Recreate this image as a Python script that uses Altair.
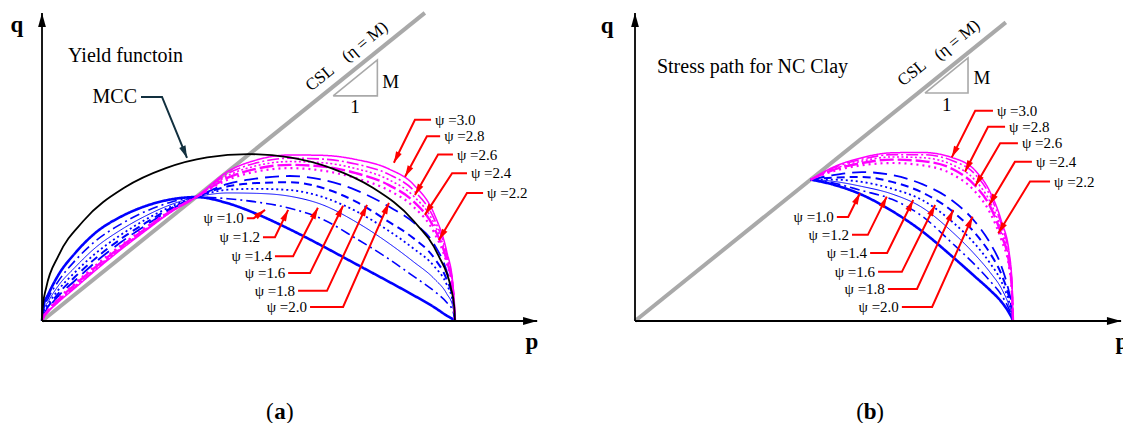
import math
import altair as alt
import pandas as pd

FONT = "Liberation Serif"
BLUE = "#0000ff"
MAGENTA = "#ff00ff"
RED = "#ff0000"
GREY = "#a9a9a9"
NAVY = "#12303f"

# p and q are both normalised by the preconsolidation pressure p0
psi_labels = ["1.0", "1.2", "1.4", "1.6", "1.8", "2.0", "2.2", "2.4", "2.6", "2.8", "3.0"]

# ---------- (a) yield functions ----------
a_p = [0, 0.004, 0.015, 0.04, 0.08, 0.13, 0.19, 0.25, 0.31, 0.373,
       0.45, 0.52, 0.6, 0.68, 0.76, 0.84, 0.9, 0.95, 0.98, 0.995, 1.0]
a_q = {
    "1.0": [0, 0.038, 0.064, 0.112, 0.164, 0.214, 0.252, 0.278, 0.294, 0.300,
            0.285, 0.259, 0.222, 0.181, 0.138, 0.095, 0.062, 0.033, 0.013, 0.004, 0],
    "1.2": [0, 0.031, 0.055, 0.097, 0.146, 0.194, 0.234, 0.265, 0.287, 0.300,
            0.296, 0.288, 0.273, 0.246, 0.200, 0.150, 0.108, 0.072, 0.045, 0.024, 0],
    "1.4": [0, 0.026, 0.047, 0.086, 0.130, 0.178, 0.220, 0.254, 0.281, 0.300,
            0.310, 0.309, 0.302, 0.281, 0.240, 0.188, 0.143, 0.102, 0.066, 0.034, 0],
    "1.6": [0, 0.022, 0.041, 0.076, 0.118, 0.164, 0.208, 0.245, 0.276, 0.300,
            0.318, 0.320, 0.317, 0.300, 0.266, 0.218, 0.175, 0.132, 0.088, 0.045, 0],
    "1.8": [0, 0.018, 0.035, 0.067, 0.107, 0.152, 0.198, 0.237, 0.272, 0.300,
            0.326, 0.334, 0.336, 0.322, 0.289, 0.240, 0.200, 0.152, 0.100, 0.052, 0],
    "2.0": [0, 0.015, 0.031, 0.061, 0.098, 0.143, 0.190, 0.231, 0.269, 0.300,
            0.332, 0.345, 0.351, 0.342, 0.317, 0.277, 0.238, 0.185, 0.120, 0.062, 0],
    "2.2": [0, 0.012, 0.027, 0.055, 0.091, 0.135, 0.182, 0.226, 0.266, 0.300,
            0.342, 0.362, 0.370, 0.364, 0.346, 0.316, 0.276, 0.213, 0.139, 0.072, 0],
    "2.4": [0, 0.011, 0.026, 0.052, 0.088, 0.131, 0.179, 0.223, 0.265, 0.300,
            0.347, 0.369, 0.378, 0.374, 0.358, 0.329, 0.289, 0.224, 0.146, 0.076, 0],
    "2.6": [0, 0.010, 0.024, 0.050, 0.085, 0.128, 0.176, 0.221, 0.264, 0.300,
            0.352, 0.376, 0.386, 0.383, 0.369, 0.342, 0.302, 0.235, 0.153, 0.080, 0],
    "2.8": [0, 0.009, 0.023, 0.048, 0.082, 0.125, 0.174, 0.220, 0.263, 0.300,
            0.357, 0.383, 0.394, 0.392, 0.380, 0.355, 0.316, 0.246, 0.160, 0.084, 0],
    "3.0": [0, 0.008, 0.022, 0.046, 0.080, 0.123, 0.172, 0.218, 0.262, 0.300,
            0.362, 0.390, 0.402, 0.401, 0.391, 0.368, 0.330, 0.258, 0.168, 0.088, 0],
}

# Modified Cam-Clay ellipse
mcc_p = [0, 0.002, 0.01, 0.04, 0.1, 0.2, 0.3, 0.4, 0.5, 0.6, 0.7, 0.8, 0.9, 0.96, 0.99, 0.998, 1.0]
mcc_q = [0, 0.036, 0.080, 0.158, 0.242, 0.323, 0.370, 0.396, 0.404, 0.396, 0.370, 0.323,
         0.242, 0.158, 0.080, 0.036, 0]

# ---------- (b) undrained stress paths of NC clay ----------
b_p = [0.465, 0.52, 0.6, 0.68, 0.76, 0.84, 0.9, 0.94, 0.97, 0.99, 0.997, 1.0]
b_q = {
    "1.0": [0.374, 0.362, 0.334, 0.291, 0.237, 0.170, 0.117, 0.081, 0.050, 0.021, 0.008, 0],
    "1.2": [0.374, 0.366, 0.345, 0.322, 0.277, 0.205, 0.148, 0.105, 0.068, 0.030, 0.012, 0],
    "1.4": [0.374, 0.370, 0.356, 0.336, 0.300, 0.235, 0.175, 0.128, 0.085, 0.040, 0.018, 0],
    "1.6": [0.374, 0.374, 0.368, 0.350, 0.320, 0.262, 0.203, 0.152, 0.103, 0.050, 0.024, 0],
    "1.8": [0.374, 0.379, 0.381, 0.368, 0.340, 0.290, 0.232, 0.178, 0.122, 0.062, 0.030, 0],
    "2.0": [0.374, 0.385, 0.394, 0.386, 0.362, 0.318, 0.262, 0.205, 0.143, 0.074, 0.038, 0],
    "2.2": [0.374, 0.395, 0.412, 0.418, 0.412, 0.388, 0.342, 0.285, 0.212, 0.140, 0.078, 0],
    "2.4": [0.374, 0.398, 0.418, 0.427, 0.423, 0.402, 0.358, 0.302, 0.226, 0.150, 0.084, 0],
    "2.6": [0.374, 0.400, 0.423, 0.434, 0.432, 0.413, 0.372, 0.314, 0.238, 0.160, 0.090, 0],
    "2.8": [0.374, 0.403, 0.428, 0.440, 0.440, 0.424, 0.388, 0.330, 0.252, 0.170, 0.097, 0],
    "3.0": [0.374, 0.405, 0.432, 0.445, 0.446, 0.432, 0.398, 0.340, 0.262, 0.180, 0.105, 0],
}

# critical state line and slope triangle
a_csl = [(0, 0), (0.927, 0.746)]
b_csl = [(0, 0), (0.981, 0.790)]
a_tri = [(0.705, 0.545), (0.812, 0.632), (0.812, 0.545), (0.705, 0.545)]
b_tri = [(0.767, 0.603), (0.881, 0.696), (0.881, 0.603), (0.767, 0.603)]

# label leaders: start (next to the label), elbow, arrow tip
a_lead = {
    "start": [(0.496, 0.249), (0.535, 0.203), (0.564, 0.157), (0.596, 0.116), (0.620, 0.073),
              (0.649, 0.034), (1.068, 0.310), (1.029, 0.358), (0.995, 0.403), (0.964, 0.447),
              (0.942, 0.487)],
    "elbow": [(0.513, 0.249), (0.564, 0.203), (0.608, 0.157), (0.649, 0.116), (0.690, 0.073),
              (0.729, 0.034), (1.029, 0.310), (0.993, 0.358), (0.959, 0.403), (0.932, 0.447),
              (0.903, 0.487)],
    "tip": [(0.540, 0.269), (0.596, 0.269), (0.668, 0.274), (0.729, 0.279), (0.787, 0.281),
            (0.840, 0.286), (0.961, 0.196), (0.927, 0.257), (0.903, 0.305), (0.879, 0.349),
            (0.852, 0.383)],
}
b_lead = {
    "start": [(0.534, 0.275), (0.574, 0.228), (0.622, 0.180), (0.643, 0.130), (0.669, 0.085),
              (0.706, 0.037), (1.098, 0.369), (1.050, 0.421), (1.013, 0.470), (0.979, 0.514),
              (0.947, 0.556)],
    "elbow": [(0.564, 0.275), (0.616, 0.228), (0.667, 0.180), (0.706, 0.130), (0.746, 0.085),
              (0.786, 0.037), (1.045, 0.369), (1.005, 0.421), (0.966, 0.470), (0.934, 0.514),
              (0.900, 0.556)],
    "tip": [(0.595, 0.338), (0.666, 0.329), (0.736, 0.320), (0.794, 0.307), (0.842, 0.294),
            (0.893, 0.276), (0.961, 0.232), (0.937, 0.307), (0.900, 0.357), (0.873, 0.395),
            (0.838, 0.433)],
}
a_mcc_lead = [(0.2397, 0.5424), (0.2906, 0.5424), (0.3511, 0.3947)]

# line style of each curve: colour, dash, width
styles = {
    "1.0": (BLUE, [1, 0], 2.6),
    "1.2": (BLUE, [10, 4, 2, 4], 1.6),
    "1.4": (BLUE, [1, 0], 1.0),
    "1.6": (BLUE, [2, 3], 1.8),
    "1.8": (BLUE, [8, 5], 2.0),
    "2.0": (BLUE, [14, 7], 1.8),
    "2.2": (MAGENTA, [2, 4], 2.2),
    "2.4": (MAGENTA, [14, 4], 2.4),
    "2.6": (MAGENTA, [2, 2.5], 1.6),
    "2.8": (MAGENTA, [12, 3, 2, 3], 1.6),
    "3.0": (MAGENTA, [1, 0], 1.5),
}

ARROW = "M0,0L-0.55,2L0.55,2Z"


def scales(xdom, ydom):
    return (alt.Scale(domain=xdom, nice=False, zero=False),
            alt.Scale(domain=ydom, nice=False, zero=False))


def xy(sx, sy):
    return dict(x=alt.X("p:Q", scale=sx, axis=None), y=alt.Y("q:Q", scale=sy, axis=None))


def path(points, sx, sy, **mark):
    df = pd.DataFrame({"p": [a for a, _ in points], "q": [b for _, b in points],
                       "i": list(range(len(points)))})
    return alt.Chart(df).mark_line(**mark).encode(order="i:Q", **xy(sx, sy))


def heading(a, b):
    # clockwise angle from "up" for the segment a -> b (equal aspect in p and q)
    return math.degrees(math.atan2(b[0] - a[0], b[1] - a[1])) % 360


def heads(points, angles, sx, sy, color, size):
    df = pd.DataFrame({"p": [a for a, _ in points], "q": [b for _, b in points], "ang": angles})
    return alt.Chart(df).mark_point(shape=ARROW, filled=True, color=color, size=size,
                                    opacity=1, strokeWidth=0).encode(
        angle=alt.Angle("ang:Q", scale=None), **xy(sx, sy))


def text(t, pt, sx, sy, **mark):
    props = dict(font=FONT, fontSize=15, color="black", baseline="middle")
    props.update(mark)
    df = pd.DataFrame({"p": [pt[0]], "q": [pt[1]], "t": [t]})
    return alt.Chart(df).mark_text(**props).encode(text="t:N", **xy(sx, sy))


def panel(p_vals, q_sets, csl, tri, lead, xdom, ydom, x_tip, y_tip, extra):
    sx, sy = scales(xdom, ydom)
    layers = [path(csl, sx, sy, color=GREY, strokeWidth=4, strokeCap="butt"),
              path(tri, sx, sy, color=GREY, strokeWidth=1.6)]
    for lab in psi_labels:
        col, dash, w = styles[lab]
        layers.append(path(list(zip(p_vals, q_sets[lab])), sx, sy, color=col,
                           strokeDash=dash, strokeWidth=w, interpolate="monotone"))
    # axes with arrow heads
    layers.append(path([(0, 0), (x_tip, 0)], sx, sy, color="black", strokeWidth=1.8))
    layers.append(path([(0, 0), (0, y_tip)], sx, sy, color="black", strokeWidth=1.8))
    layers.append(heads([(x_tip, 0), (0, y_tip)], [90, 0], sx, sy, "black", 200))
    # red leaders and labels
    angs = []
    for k, lab in enumerate(psi_labels):
        s, e, t = lead["start"][k], lead["elbow"][k], lead["tip"][k]
        layers.append(path([s, e, t], sx, sy, color=RED, strokeWidth=2))
        angs.append(heading(e, t))
        blue = styles[lab][0] == BLUE
        layers.append(text("\u03c8 =" + lab, s, sx, sy, align="right" if blue else "left",
                           dx=-3 if blue else 4))
    layers.append(heads(lead["tip"], angs, sx, sy, RED, 130))
    layers += extra(sx, sy)
    return alt.layer(*layers)


def extra_a(sx, sy):
    s, e, t = a_mcc_lead
    return [
        path(list(zip(mcc_p, mcc_q)), sx, sy, color="black", strokeWidth=1.8,
             interpolate="monotone"),
        path([s, e, t], sx, sy, color=NAVY, strokeWidth=2),
        heads([t], [heading(e, t)], sx, sy, NAVY, 150),
        text("MCC", s, sx, sy, align="right", dx=-4, fontSize=20),
        text("Yield functoin", (0.063, 0.642), sx, sy, align="left", fontSize=20),
        text("CSL", (0.673, 0.588), sx, sy, align="center", fontSize=17, angle=321),
        text("(\u03b7 = M)", (0.782, 0.676), sx, sy, align="center", fontSize=17, angle=321),
        text("M", (0.844, 0.579), sx, sy, align="center", fontSize=19),
        text("1", (0.758, 0.518), sx, sy, align="center", fontSize=19),
        text("q", (-0.061, 0.717), sx, sy, align="center", fontSize=23, fontWeight="bold"),
        text("p", (1.186, -0.051), sx, sy, align="center", fontSize=23, fontWeight="bold"),
        text("(", (0.576, -0.220), sx, sy, align="center", fontSize=23, dx=-10),
        text("a", (0.576, -0.220), sx, sy, align="center", fontSize=23, fontWeight="bold"),
        text(")", (0.576, -0.220), sx, sy, align="center", fontSize=23, dx=10),
    ]


def extra_b(sx, sy):
    return [
        text("Stress path for NC Clay", (0.058, 0.672), sx, sy, align="left", fontSize=20),
        text("CSL", (0.733, 0.656), sx, sy, align="center", fontSize=17, angle=321),
        text("(\u03b7 = M)", (0.852, 0.743), sx, sy, align="center", fontSize=17, angle=321),
        text("M", (0.918, 0.643), sx, sy, align="center", fontSize=19),
        text("1", (0.825, 0.571), sx, sy, align="center", fontSize=19),
        text("q", (-0.074, 0.780), sx, sy, align="center", fontSize=23, fontWeight="bold"),
        text("p", (1.288, -0.056), sx, sy, align="center", fontSize=23, fontWeight="bold"),
        text("(", (0.622, -0.241), sx, sy, align="center", fontSize=23, dx=-10),
        text("b", (0.622, -0.241), sx, sy, align="center", fontSize=23, fontWeight="bold"),
        text(")", (0.622, -0.241), sx, sy, align="center", fontSize=23, dx=10),
    ]


panel_a = panel(a_p, a_q, a_csl, a_tri, a_lead, [-0.1017, 2.6174], [-0.2470, 0.7772],
                1.199, 0.746, extra_a)
panel_b = panel(b_p, b_q, b_csl, b_tri, b_lead, [-1.6799, 1.2910], [-0.2698, 0.8492],
                1.286, 0.815, extra_b)

chart = alt.layer(panel_a, panel_b).resolve_scale(x="independent", y="independent").properties(
    width=1123, height=423, padding=0, autosize=alt.AutoSizeParams(type="none"),
    background="white",
).configure_view(stroke=None)

chart.save("out.html", embed_options={"renderer": "svg", "actions": False})
